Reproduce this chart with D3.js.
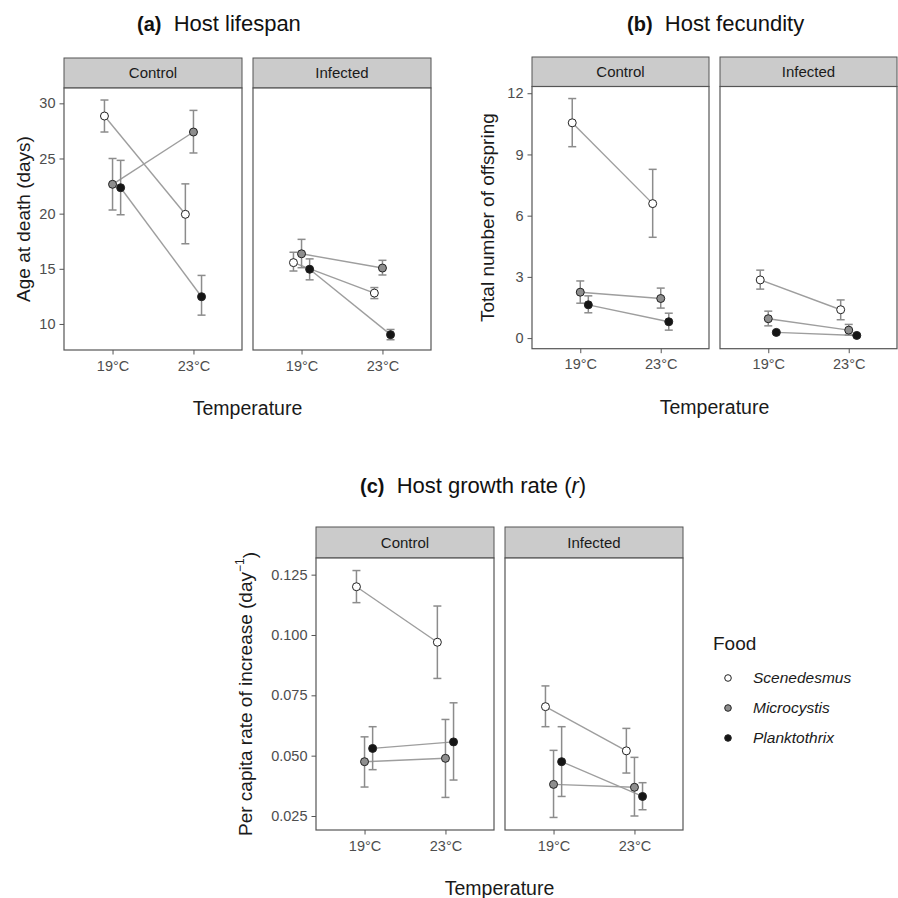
<!DOCTYPE html>
<html>
<head>
<meta charset="utf-8">
<script src="https://cdn.jsdelivr.net/npm/d3@7"></script>
<style>
  body { margin: 0; background: #fff; }
  text { font-family: 'Liberation Sans', Arial, sans-serif; }
</style>
</head>
<body>
<script>
// categories
const temps = ['19°C', '23°C']
const treatments = ['Control', 'Infected']
const foods = ['Scenedesmus', 'Microcystis', 'Planktothrix']

// values ordered treatment -> food -> temperature
const lifespanMean = [28.85, 19.94, 22.66, 27.4, 22.35, 12.47, 15.56, 12.8, 16.36, 15.07, 14.96, 9.03]
const lifespanLow = [27.4, 17.27, 20.33, 25.5, 19.9, 10.8, 14.8, 12.3, 15.1, 14.44, 14.0, 8.57]
const lifespanHigh = [30.3, 22.7, 25.0, 29.36, 24.83, 14.4, 16.5, 13.3, 17.67, 15.77, 15.9, 9.5]

const fecundityMean = [10.55, 6.59, 2.25, 1.94, 1.63, 0.8, 2.85, 1.39, 0.95, 0.39, 0.28, 0.13]
const fecundityLow = [9.38, 4.94, 1.71, 1.47, 1.24, 0.39, 2.4, 0.9, 0.6, 0.15, 0.22, 0.08]
const fecundityHigh = [11.74, 8.27, 2.8, 2.45, 2.07, 1.22, 3.33, 1.87, 1.32, 0.67, 0.34, 0.18]

const growthMean = [0.120, 0.097, 0.0475, 0.0489, 0.053, 0.0557, 0.0703, 0.052, 0.0381, 0.0369, 0.0475, 0.0331]
const growthLow = [0.1134, 0.082, 0.037, 0.0327, 0.0442, 0.0399, 0.062, 0.0428, 0.0244, 0.025, 0.0331, 0.0276]
const growthHigh = [0.1267, 0.112, 0.0578, 0.065, 0.062, 0.0719, 0.0789, 0.0613, 0.0522, 0.0493, 0.062, 0.0388]

// tick labels
const lifespanTicks = [10, 15, 20, 25, 30]
const fecundityTicks = [0, 3, 6, 9, 12]
const growthTicks = [0.025, 0.05, 0.075, 0.1, 0.125]

const fillOf = {Scenedesmus: '#ffffff', Microcystis: '#8e8e8e', Planktothrix: '#151515'}
const dodge = {Scenedesmus: -0.1, Microcystis: 0, Planktothrix: 0.1}

const svg = d3.select('body').append('svg').attr('width', 898).attr('height', 898)

function rows(mean, low, high) {
  const out = []
  treatments.forEach((tr, ti) => foods.forEach((f, fi) => temps.forEach((t, k) => {
    const i = ti * 6 + fi * 2 + k
    out.push({treat: tr, food: f, temp: t, mean: mean[i], low: low[i], high: high[i]})
  })))
  return out
}

function drawPanel(cfg, data) {
  const y = d3.scaleLinear().domain(cfg.domain).range([cfg.bottom, cfg.stripBottom])
  treatments.forEach((tr, ti) => {
    const left = cfg.lefts[ti]
    const x = d3.scalePoint().domain(temps).range([left, left + cfg.w]).padding(0.6)
    const step = x.step()
    const px = d => x(d.temp) + dodge[d.food] * step
    const g = svg.append('g')

    // strip
    g.append('rect').attr('x', left).attr('y', cfg.stripTop).attr('width', cfg.w)
      .attr('height', cfg.stripBottom - cfg.stripTop).attr('fill', '#cbcbcb')
      .attr('stroke', '#555').attr('stroke-width', 1)
    g.append('text').attr('x', left + cfg.w / 2).attr('y', (cfg.stripTop + cfg.stripBottom) / 2)
      .attr('dy', '0.35em').attr('text-anchor', 'middle').style('font-size', '15px')
      .attr('fill', '#1a1a1a').text(tr)

    // panel
    g.append('rect').attr('x', left).attr('y', cfg.stripBottom).attr('width', cfg.w)
      .attr('height', cfg.bottom - cfg.stripBottom).attr('fill', '#fff')
      .attr('stroke', '#555').attr('stroke-width', 1.2)

    // x axis
    const xa = g.append('g').attr('transform', 'translate(0,' + cfg.bottom + ')')
      .call(d3.axisBottom(x).tickSize(4.5).tickPadding(6))
    xa.select('.domain').remove()
    xa.selectAll('line').attr('stroke', '#555')
    xa.selectAll('text').style('font-size', '14.5px').style('font-family', "'Liberation Sans', Arial, sans-serif").attr('fill', '#4d4d4d')

    // y axis on the first facet only
    if (ti === 0) {
      const ya = g.append('g').attr('transform', 'translate(' + left + ',0)')
        .call(d3.axisLeft(y).tickValues(cfg.ticks).tickFormat(cfg.format).tickSize(4.5).tickPadding(4))
      ya.select('.domain').remove()
      ya.selectAll('line').attr('stroke', '#555')
      ya.selectAll('text').style('font-size', '14.5px').style('font-family', "'Liberation Sans', Arial, sans-serif").attr('fill', '#4d4d4d')
    }

    const sub = data.filter(d => d.treat === tr)
    const line = d3.line().x(px).y(d => y(d.mean))
    foods.forEach(f => {
      g.append('path').datum(sub.filter(d => d.food === f)).attr('d', line)
        .attr('fill', 'none').attr('stroke', '#9e9e9e').attr('stroke-width', 1.4)
    })

    // error bars
    const eb = g.selectAll('.eb').data(sub).enter().append('g').attr('stroke', '#8c8c8c').attr('stroke-width', 1.5)
    eb.append('line').attr('x1', px).attr('x2', px).attr('y1', d => y(d.low)).attr('y2', d => y(d.high))
    eb.append('line').attr('x1', d => px(d) - 4).attr('x2', d => px(d) + 4).attr('y1', d => y(d.low)).attr('y2', d => y(d.low))
    eb.append('line').attr('x1', d => px(d) - 4).attr('x2', d => px(d) + 4).attr('y1', d => y(d.high)).attr('y2', d => y(d.high))

    g.selectAll('.pt').data(sub).enter().append('circle')
      .attr('cx', px).attr('cy', d => y(d.mean)).attr('r', 4)
      .attr('fill', d => fillOf[d.food]).attr('stroke', '#222').attr('stroke-width', 1)
  })

  // axis titles
  svg.append('text').attr('transform', 'translate(' + cfg.ytitleX + ',' + (cfg.stripBottom + cfg.bottom) / 2 + ') rotate(-90)')
    .attr('text-anchor', 'middle').attr('dy', '0.35em').style('font-size', '19px').attr('fill', '#1a1a1a')
    .call(t => cfg.ytitle(t))
  svg.append('text').attr('x', (cfg.lefts[0] + cfg.lefts[1] + cfg.w) / 2).attr('y', cfg.bottom + 58)
    .attr('dy', '0.35em').attr('text-anchor', 'middle').style('font-size', '19.5px').attr('fill', '#1a1a1a')
    .text('Temperature')

  // panel title
  const tt = svg.append('text').attr('x', cfg.titleX).attr('y', cfg.titleY).attr('dy', '0.35em')
    .style('font-size', '22px').attr('fill', '#111')
  tt.append('tspan').style('font-weight', 'bold').style('font-size', '20px').text(cfg.letter)
  tt.append('tspan').text('\u00a0 ' + cfg.title)
  if (cfg.titleItalic) {
    tt.append('tspan').text('(')
    tt.append('tspan').style('font-style', 'italic').text(cfg.titleItalic)
    tt.append('tspan').text(')')
  }
}

drawPanel({
  lefts: [64, 253], w: 178, stripTop: 58, stripBottom: 88, bottom: 350,
  domain: [7.64, 31.39], ticks: lifespanTicks, format: d3.format('d'),
  ytitleX: 23, ytitle: t => t.text('Age at death (days)'),
  titleX: 137, titleY: 23, letter: '(a)', title: 'Host lifespan'
}, rows(lifespanMean, lifespanLow, lifespanHigh))

drawPanel({
  lefts: [532, 720], w: 177, stripTop: 57, stripBottom: 86.5, bottom: 348.7,
  domain: [-0.52, 12.33], ticks: fecundityTicks, format: d3.format('d'),
  ytitleX: 487, ytitle: t => t.text('Total number of offspring'),
  titleX: 627, titleY: 23, letter: '(b)', title: 'Host fecundity'
}, rows(fecundityMean, fecundityLow, fecundityHigh))

drawPanel({
  lefts: [316, 505], w: 178, stripTop: 527, stripBottom: 558, bottom: 830,
  domain: [0.0192, 0.1319], ticks: growthTicks, format: d3.format('.3f'),
  ytitleX: 245,
  ytitle: t => {
    t.append('tspan').text('Per capita rate of increase (day')
    t.append('tspan').attr('dy', '-0.6em').style('font-size', '12px').text('\u22121')
    t.append('tspan').attr('dy', '0.6em').text(')')
  },
  titleX: 360, titleY: 485, letter: '(c)', title: 'Host growth rate ', titleItalic: 'r'
}, rows(growthMean, growthLow, growthHigh))

// legend
const legend = svg.append('g')
legend.append('text').attr('x', 713).attr('y', 643).attr('dy', '0.35em')
  .style('font-size', '19px').attr('fill', '#1a1a1a').text('Food')
const legY = d3.scalePoint().domain(foods).range([678, 738])
legend.selectAll('circle').data(foods).enter().append('circle')
  .attr('cx', 728).attr('cy', d => legY(d)).attr('r', 3.3)
  .attr('fill', d => fillOf[d]).attr('stroke', '#222').attr('stroke-width', 1)
legend.selectAll('.lab').data(foods).enter().append('text')
  .attr('x', 753).attr('y', d => legY(d)).attr('dy', '0.35em')
  .style('font-size', '15.5px').style('font-style', 'italic').attr('fill', '#1a1a1a')
  .text(d => d)
</script>
</body>
</html>
